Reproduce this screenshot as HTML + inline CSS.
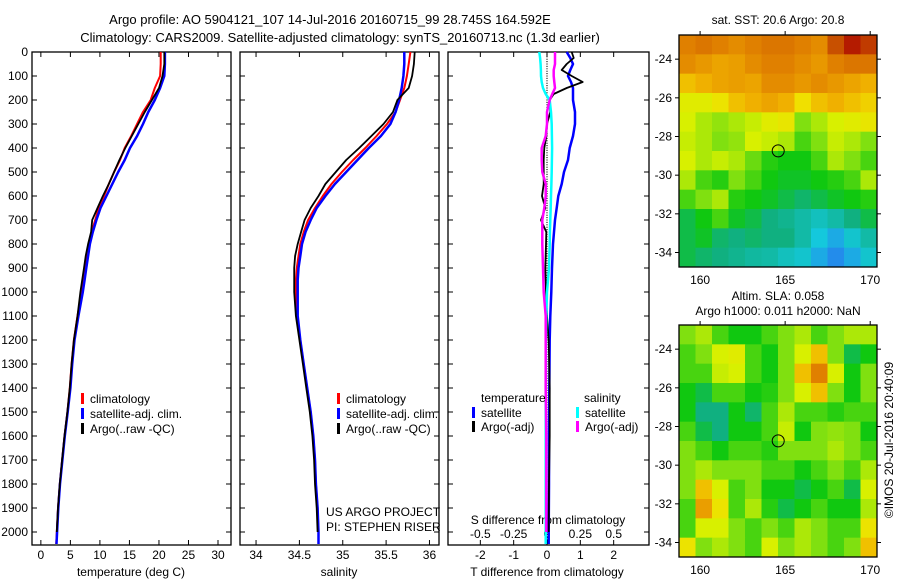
<!DOCTYPE html>
<html><head><meta charset="utf-8"><style>
body{margin:0;background:#fff}
svg{display:block;font-family:"Liberation Sans",sans-serif;font-size:12px}
</style></head><body>
<svg id="c" width="900" height="580" xmlns="http://www.w3.org/2000/svg">
<rect width="900" height="580" fill="#fff"/>
<text x="330" y="24" text-anchor="middle" font-size="13">Argo profile: AO 5904121_107 14-Jul-2016 20160715_99 28.745S 164.592E</text>
<text x="340" y="42" text-anchor="middle" font-size="13">Climatology: CARS2009. Satellite-adjusted climatology: synTS_20160713.nc (1.3d earlier)</text>
<g id="g"></g>
</svg>
<script>
// ---- data ----
const depths=[0,50,100,150,200,250,300,350,400,450,500,550,600,650,700,750,800,850,900,950,1000,1100,1200,1300,1400,1500,1600,1700,1800,1900,2000,2050];
const tClim=[20.3,20.3,20.2,19.3,18.6,17.3,16.3,15.3,14.2,13.4,12.4,11.5,10.7,9.8,9.2,8.6,8.1,7.8,7.5,7.2,6.9,6.2,5.6,5.2,4.9,4.5,4.0,3.6,3.2,2.9,2.7,2.6];
const tSat=[21.0,21.0,20.9,20.2,19.3,18.2,17.3,16.3,15.1,14.2,13.1,12.1,11.1,10.1,9.4,8.8,8.3,8.0,7.7,7.4,7.1,6.35,5.7,5.3,5.0,4.55,4.05,3.65,3.25,2.95,2.75,2.65];
const tArgo=[20.9,20.9,20.6,20.0,18.8,17.6,16.5,15.4,14.3,13.3,12.4,11.5,10.5,9.6,8.7,8.5,8.0,7.6,7.3,7.0,6.7,6.2,5.6,5.2,4.9,4.5,4.0,3.6,3.2,2.9,2.7,null];
const sClim=[35.78,35.76,35.74,35.71,35.66,35.61,35.51,35.39,35.26,35.12,34.99,34.87,34.77,34.68,34.60,34.55,34.51,34.49,34.47,34.46,34.46,34.47,34.51,34.55,34.59,34.63,34.66,34.68,34.69,34.71,34.72,34.72];
const sSat=[35.71,35.71,35.70,35.68,35.65,35.61,35.55,35.44,35.30,35.17,35.04,34.91,34.80,34.70,34.63,34.57,34.53,34.51,34.49,34.48,34.48,34.48,34.51,34.55,34.59,34.63,34.66,34.68,34.69,34.71,34.72,34.72];
const sArgo=[35.83,35.82,35.80,35.76,35.63,35.58,35.47,35.33,35.19,35.04,34.92,34.80,34.72,34.63,34.56,34.52,34.48,34.45,34.44,34.44,34.44,34.46,34.50,34.54,34.58,34.62,34.65,34.67,34.68,34.70,34.71,null];
const dDepths=[0,25,50,75,100,125,150,175,200,250,300,350,400,450,500,550,600,650,700,750,800,900,1000,1100,1200,1400,1600,1800,2000,2050];
const dTSat=[0.59,0.7,0.78,0.7,0.63,0.72,0.78,0.78,0.78,0.84,0.84,0.78,0.68,0.63,0.51,0.44,0.34,0.29,0.24,0.21,0.18,0.15,0.13,0.1,0.08,0.07,0.06,0.06,0.05,0.05];
const dTArgo=[0.74,0.8,0.59,0.44,0.74,1.07,0.59,0.2,0.08,0.1,0.0,-0.02,-0.08,-0.1,-0.1,-0.1,-0.15,-0.05,-0.18,-0.02,-0.03,-0.05,-0.03,0.0,0.05,0.08,0.08,0.06,0.05,null];
const dSSat=[-0.058,-0.052,-0.048,-0.046,-0.045,-0.04,-0.03,-0.01,0.02,0.03,0.035,0.037,0.038,0.037,0.035,0.033,0.03,0.028,0.025,0.022,0.02,0.015,0.0,-0.005,-0.008,-0.01,-0.01,-0.01,-0.01,-0.01];
const dSArgo=[0.06,0.06,0.06,0.05,0.05,0.055,0.06,0.04,0.02,0.0,0.0,-0.01,-0.04,-0.04,-0.035,-0.01,-0.01,-0.02,-0.035,-0.035,-0.035,-0.03,-0.025,-0.01,-0.01,-0.01,-0.005,-0.005,-0.005,null];
const depthTicks=[0,100,200,300,400,500,600,700,800,900,1000,1100,1200,1300,1400,1500,1600,1700,1800,1900,2000];
const tTicks=[0,5,10,15,20,25,30];
const sTicks=[34,34.5,35,35.5,36];
const sTickLabels=["34","34.5","35","35.5","36"];
const dtTicks=[-2,-1,0,1,2];
const dsTicks=[-0.5,-0.25,0,0.25,0.5];
const dsTickLabels=["-0.5","-0.25","0","0.25","0.5"];
const sstGrid=[
[.8,.82,.8,.78,.8,.82,.82,.8,.78,.9,.95,.92],
[.78,.76,.74,.75,.78,.8,.8,.78,.76,.8,.82,.82],
[.7,.72,.74,.75,.74,.78,.78,.76,.78,.76,.74,.72],
[.62,.62,.65,.7,.72,.74,.72,.66,.7,.72,.7,.68],
[.6,.55,.52,.55,.58,.62,.64,.5,.55,.6,.62,.64],
[.58,.55,.5,.52,.6,.58,.55,.45,.5,.58,.55,.5],
[.6,.55,.58,.55,.48,.42,.4,.4,.45,.55,.5,.45],
[.55,.45,.42,.5,.45,.4,.38,.38,.4,.42,.45,.55],
[.45,.5,.55,.42,.4,.38,.35,.32,.35,.38,.4,.42],
[.35,.4,.45,.38,.35,.3,.28,.25,.22,.25,.3,.35],
[.35,.38,.32,.3,.32,.3,.3,.25,.18,.15,.2,.25],
[.35,.32,.3,.28,.26,.25,.22,.2,.15,.12,.15,.2]];
const slaGrid=[
[.5,.55,.45,.4,.4,.45,.5,.55,.45,.5,.55,.55],
[.45,.5,.6,.62,.45,.4,.5,.6,.7,.5,.35,.4],
[.45,.45,.58,.6,.45,.4,.5,.7,.8,.6,.4,.5],
[.4,.35,.45,.45,.4,.42,.5,.6,.7,.5,.4,.5],
[.4,.3,.3,.4,.32,.45,.55,.45,.45,.42,.45,.45],
[.45,.35,.3,.4,.4,.45,.58,.4,.5,.52,.5,.4],
[.5,.45,.4,.45,.45,.42,.5,.5,.5,.55,.5,.45],
[.5,.55,.5,.5,.5,.45,.45,.4,.45,.5,.45,.55],
[.5,.7,.6,.45,.5,.4,.4,.35,.4,.45,.35,.6],
[.45,.75,.65,.45,.55,.42,.35,.4,.45,.4,.4,.55],
[.45,.6,.6,.5,.45,.5,.45,.55,.5,.45,.45,.65],
[.65,.5,.55,.5,.45,.6,.5,.55,.5,.45,.5,.7]];
const lonTicks=[160,165,170];
const latTicks=[-24,-26,-28,-30,-32,-34];
const argoLon=164.592, argoLat=-28.745;

// ---- drawing ----
const NS="http://www.w3.org/2000/svg";
const G=document.getElementById('g');
function el(tag,attrs,parent){const e=document.createElementNS(NS,tag);for(const k in attrs)e.setAttribute(k,attrs[k]);(parent||G).appendChild(e);return e;}
const yTop=52,yPerD=0.24;
const yD=d=>yTop+d*yPerD;
const PB=545;
function lin(d0,d1,p0,p1){return v=>p0+(v-d0)*(p1-p0)/(d1-d0);}
function path(xs,ds,fx,color,w,name){
  let s="",pen=false;
  for(let i=0;i<xs.length;i++){if(xs[i]===null){pen=false;continue;}s+=(pen?"L":"M")+fx(xs[i]).toFixed(1)+","+yD(ds[i]).toFixed(1);pen=true;}
  const p=el('path',{d:s,fill:'none',stroke:color,'stroke-width':w,'stroke-linejoin':'round'});
  
  
}
function frame(x0,x1,name){
  const r=el('rect',{x:x0,y:yTop,width:x1-x0,height:PB-yTop,fill:'none',stroke:'#000','stroke-width':1.3});
  
  
  depthTicks.forEach(d=>{el('line',{x1:x0,x2:x0+5,y1:yD(d),y2:yD(d),stroke:'#000'});el('line',{x1:x1-5,x2:x1,y1:yD(d),y2:yD(d),stroke:'#000'});});
}
function xticks(ticks,labels,fx,y,name){
  ticks.forEach((t,i)=>{const x=fx(t);el('line',{x1:x,x2:x,y1:PB,y2:PB-5,stroke:'#000'});el('line',{x1:x,x2:x,y1:yTop,y2:yTop+5,stroke:'#000'});
    const tx=el('text',{x:x,y:y,'text-anchor':'middle'});tx.textContent=labels[i];
    
    });
}
function text(x,y,s,name,anchor){const t=el('text',{x:x,y:y,'text-anchor':anchor||'start'});t.textContent=s;return t;}
function legend(x,y,color,label,name){el('rect',{x:x,y:y-10,width:3,height:11,fill:color});text(x+9,y,label,name);}

// panel 1 temperature
const fT=lin(-1.5,32.2,32,231);
frame(32,231,'temperature-panel');
depthTicks.forEach(d=>text(28,yD(d)+4,String(d),'depth-tick-label','end'));
xticks(tTicks,tTicks.map(String),fT,559,'temperature-tick-label');
text(131,576,'temperature (deg C)','temperature-axis-title','middle');
path(tClim,depths,fT,'#f00',2,'temp-climatology-line');
path(tSat,depths,fT,'#00f',2.5,'temp-satellite-line');
path(tArgo,depths,fT,'#000',1.8,'temp-argo-line');
legend(81,403,'#f00','climatology','legend-climatology');
legend(81,418,'#00f','satellite-adj. clim.','legend-satellite');
legend(81,433,'#000','Argo(..raw -QC)','legend-argo');

// panel 2 salinity
const fS=lin(33.815,36.11,240,439);
frame(240,439,'salinity-panel');
xticks(sTicks,sTickLabels,fS,559,'salinity-tick-label');
text(339,576,'salinity','salinity-axis-title','middle');
path(sClim,depths,fS,'#f00',2,'sal-climatology-line');
path(sSat,depths,fS,'#00f',2.5,'sal-satellite-line');
path(sArgo,depths,fS,'#000',1.8,'sal-argo-line');
legend(337,403,'#f00','climatology','legend-climatology-2');
legend(337,418,'#00f','satellite-adj. clim.','legend-satellite-2');
legend(337,433,'#000','Argo(..raw -QC)','legend-argo-2');
text(326,516,'US ARGO PROJECT','project-label');
text(326,531,'PI: STEPHEN RISER','pi-label');

// panel 3 differences
const fDT=lin(-2.97,3.06,448,649);
const fDS=v=>fDT(v*4);
frame(448,649,'difference-panel');
for(let d=0;d<=2050;d+=10){el('circle',{cx:fDT(0),cy:yD(d),r:0.6,fill:'#000'});}
xticks(dtTicks,dtTicks.map(String),fDT,559,'t-diff-tick-label');
dsTicks.forEach((t,i)=>{const tx=text(fDS(t),538,dsTickLabels[i],'s-diff-tick-label','middle');});
text(548,524,'S difference from climatology','s-diff-axis-title','middle');
text(547,576,'T difference from climatology','t-diff-axis-title','middle');
path(dTSat,dDepths,fDT,'#00f',2.5,'tdiff-satellite-line');
path(dTArgo,dDepths,fDT,'#000',1.8,'tdiff-argo-line');
path(dSSat,dDepths,fDS,'#0ff',2.5,'sdiff-satellite-line');
path(dSArgo,dDepths,fDS,'#f0f',2.5,'sdiff-argo-line');
text(481,402,'temperature','legend-temperature-heading');
legend(472,417,'#00f','satellite','legend-t-satellite');
legend(472,431,'#000','Argo(-adj)','legend-t-argo');
text(584,402,'salinity','legend-salinity-heading');
legend(576,417,'#0ff','satellite','legend-s-satellite');
legend(576,431,'#f0f','Argo(-adj)','legend-s-argo');

// maps
const stops=[[0.1,[40,120,240]],[0.18,[20,200,220]],[0.3,[16,176,128]],[0.4,[16,200,16]],[0.5,[128,224,16]],[0.6,[216,240,0]],[0.66,[240,224,0]],[0.72,[240,176,0]],[0.8,[224,128,0]],[0.9,[200,80,0]],[0.96,[176,16,0]]];
function cmap(v){if(v<=stops[0][0])return 'rgb('+stops[0][1]+')';for(let i=1;i<stops.length;i++){if(v<=stops[i][0]){const a=stops[i-1],b=stops[i],f=(v-a[0])/(b[0]-a[0]);return 'rgb('+a[1].map((c,k)=>Math.round(c+f*(b[1][k]-c))).join(',')+')';}}return 'rgb('+stops[stops.length-1][1]+')';}
function map(grid,y0,name){
  const x0=679,x1=877,y1=y0+232;
  const fx=lin(158.76,170.4,x0,x1), fy=lin(-22.75,-34.75,y0,y1);
  const g=el('g',{});
  
  
  const rows=grid.length,cols=grid[0].length,cw=(x1-x0)/cols,ch=(y1-y0)/rows;
  grid.forEach((row,r)=>row.forEach((v,c)=>{const cell=el('rect',{x:x0+c*cw,y:y0+r*ch,width:cw+0.5,height:ch+0.5,fill:cmap(v)},g);
    
    }));
  el('rect',{x:x0,y:y0,width:x1-x0,height:y1-y0,fill:'none',stroke:'#000','stroke-width':1.3});
  lonTicks.forEach(l=>{const x=fx(l);el('line',{x1:x,x2:x,y1:y0-4,y2:y0,stroke:'#000'});text(x,y1+17,String(l),'map-lon-label','middle');});
  latTicks.forEach(l=>{const y=fy(l);el('line',{x1:x0-4,x2:x0,y1:y,y2:y,stroke:'#000'});el('line',{x1:x1,x2:x1+4,y1:y,y2:y,stroke:'#000'});text(672,y+4,String(l),'map-lat-label','end');});
  const c=el('circle',{cx:fx(argoLon),cy:fy(argoLat),r:6,fill:'none',stroke:'#000','stroke-width':1});
  
  
}
map(sstGrid,35,'sst-map');
map(slaGrid,325,'sla-map');
text(778,24,'sat. SST: 20.6 Argo: 20.8','sst-map-title','middle');
text(778,300,'Altim. SLA: 0.058','sla-map-title','middle');
text(778,315,'Argo h1000: 0.011 h2000: NaN','sla-map-subtitle','middle');
const cr=text(0,0,'©IMOS 20-Jul-2016 20:40:09','imos-credit','middle');
cr.setAttribute('transform','translate(893,440) rotate(-90)');
</script>
</body></html>
